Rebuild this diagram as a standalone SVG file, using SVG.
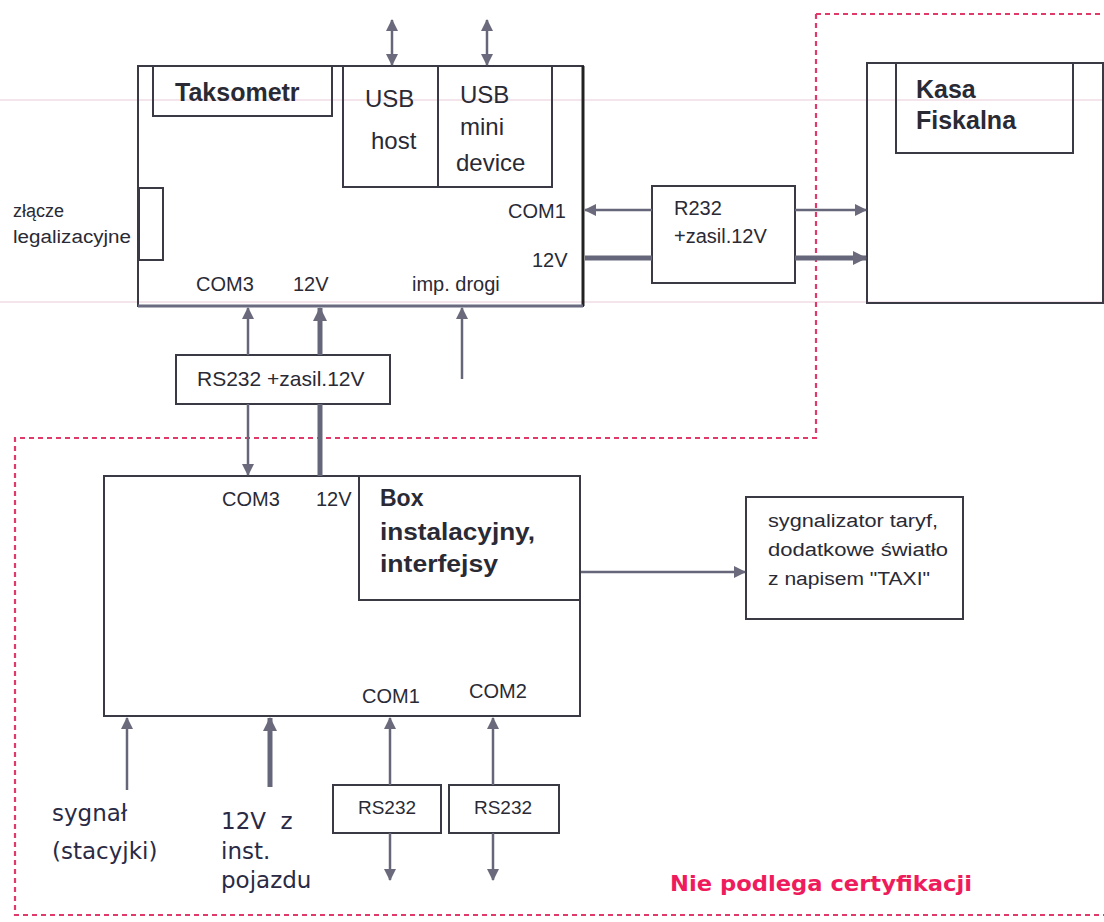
<svg xmlns="http://www.w3.org/2000/svg" width="1104" height="922" viewBox="0 0 1104 922">
<style>
.box{fill:none;stroke:#3a3a44;stroke-width:2}
.ln{fill:none;stroke:#66667a;stroke-width:2.5}
.thk{fill:none;stroke:#66667a;stroke-width:5}
.t{font-family:"Liberation Sans",Arial,sans-serif;fill:#2a2a35}
.b{font-family:"Liberation Sans",Arial,sans-serif;font-weight:bold;fill:#2a2a35}
.v{font-family:"DejaVu Sans",Verdana,sans-serif;fill:#2a2a45}
.dash{fill:none;stroke:#e03a6a;stroke-width:2.2;stroke-dasharray:5 4}
.faint{stroke:#f1dbe6;stroke-width:1.5}
</style>
<defs>
<marker id="ah" markerWidth="14" markerHeight="14" refX="11" refY="6" orient="auto-start-reverse" markerUnits="userSpaceOnUse"><path d="M0,0 L12,6 L0,12 Z" fill="#6a6a7c"/></marker>
<marker id="ahb" markerWidth="16" markerHeight="16" refX="13" refY="7" orient="auto-start-reverse" markerUnits="userSpaceOnUse"><path d="M0,0 L14,7 L0,14 Z" fill="#6a6a7c"/></marker>
</defs>
<rect width="1104" height="922" fill="#ffffff"/>
<line class="faint" x1="0" y1="100" x2="1104" y2="100"/>
<line class="faint" x1="0" y1="302" x2="1104" y2="302"/>

<g id="boundary">
<path class="dash" d="M816,14 H1104 M816,14 V438 H15 V915 H1104"/>
</g>

<g id="taksometr">
<rect class="box" x="138" y="66" width="445" height="240"/>
<line x1="583" y1="66" x2="583" y2="306" stroke="#222" stroke-width="3"/>
<line x1="138" y1="306" x2="583" y2="306" stroke="#6a6a80" stroke-width="3"/>
<rect class="box" x="153" y="66" width="179" height="50"/>
<text class="b" x="175" y="101" font-size="25">Taksometr</text>
<text class="t" x="508" y="218" font-size="20">COM1</text>
<text class="t" x="532" y="267" font-size="20">12V</text>
<text class="t" x="196" y="291" font-size="20">COM3</text>
<text class="t" x="293" y="291" font-size="20">12V</text>
<text class="t" x="412" y="291" font-size="20">imp. drogi</text>
</g>

<g id="usb-host">
<rect class="box" x="343" y="66" width="95" height="121"/>
<text class="t" x="365" y="107" font-size="24">USB</text>
<text class="t" x="371" y="149" font-size="24">host</text>
</g>

<g id="usb-mini">
<rect class="box" x="438" y="66" width="114" height="121"/>
<text class="t" x="460" y="103" font-size="24">USB</text>
<text class="t" x="460" y="135" font-size="24">mini</text>
<text class="t" x="456" y="171" font-size="24">device</text>
</g>

<g id="zlacze">
<rect class="box" x="139" y="188" width="24" height="72"/>
<text class="t" x="13" y="217" font-size="18">złącze</text>
<text class="t" x="13" y="243" font-size="18" textLength="118" lengthAdjust="spacingAndGlyphs">legalizacyjne</text>
</g>

<g id="r232">
<rect class="box" x="652" y="186" width="143" height="97"/>
<text class="t" x="674" y="215" font-size="20">R232</text>
<text class="t" x="674" y="243" font-size="20">+zasil.12V</text>
</g>

<g id="kasa">
<rect class="box" x="867" y="63" width="236" height="240"/>
<rect class="box" x="896" y="63" width="177" height="90"/>
<text class="b" x="916" y="98" font-size="25">Kasa</text>
<text class="b" x="916" y="129" font-size="25">Fiskalna</text>
</g>

<g id="rs232-zasil">
<rect class="box" x="176" y="355" width="214" height="49"/>
<text class="t" x="197" y="386" font-size="21">RS232 +zasil.12V</text>
</g>

<g id="box-instalacyjny">
<rect class="box" x="104" y="476" width="476" height="240"/>
<path class="box" d="M359,476 V600 H580"/>
<text class="b" x="380" y="506" font-size="23">Box</text>
<text class="b" x="380" y="540" font-size="23" textLength="155" lengthAdjust="spacingAndGlyphs">instalacyjny,</text>
<text class="b" x="380" y="572" font-size="23" textLength="118" lengthAdjust="spacingAndGlyphs">interfejsy</text>
<text class="t" x="222" y="506" font-size="20">COM3</text>
<text class="t" x="316" y="506" font-size="20">12V</text>
<text class="t" x="362" y="703" font-size="20">COM1</text>
<text class="t" x="469" y="698" font-size="20">COM2</text>
</g>

<g id="sygnalizator">
<rect class="box" x="746" y="497" width="217" height="122"/>
<text class="t" x="768" y="527" font-size="18" textLength="170" lengthAdjust="spacingAndGlyphs">sygnalizator taryf,</text>
<text class="t" x="768" y="556" font-size="18" textLength="180" lengthAdjust="spacingAndGlyphs">dodatkowe światło</text>
<text class="t" x="768" y="585" font-size="18" textLength="162" lengthAdjust="spacingAndGlyphs">z napisem "TAXI"</text>
</g>

<g id="rs232-1">
<rect class="box" x="333" y="785" width="108" height="48"/>
<text class="t" x="387" y="814" font-size="19" text-anchor="middle">RS232</text>
</g>
<g id="rs232-2">
<rect class="box" x="449" y="785" width="110" height="48"/>
<text class="t" x="503" y="814" font-size="19" text-anchor="middle">RS232</text>
</g>

<g id="inputs">
<text class="v" x="52" y="821" font-size="23">sygnał</text>
<text class="v" x="52" y="859" font-size="23">(stacyjki)</text>
<text class="v" x="221" y="829" font-size="23" xml:space="preserve">12V  z</text>
<text class="v" x="221" y="859" font-size="23">inst.</text>
<text class="v" x="221" y="888" font-size="23">pojazdu</text>
<text x="670" y="891" font-size="21" font-weight="bold" font-family="'DejaVu Sans',Verdana,sans-serif" fill="#ee1c5c" textLength="302" lengthAdjust="spacingAndGlyphs">Nie podlega certyfikacji</text>
</g>

<g id="connectors">
<line class="ln" x1="392" y1="20" x2="392" y2="65" marker-start="url(#ah)" marker-end="url(#ah)"/>
<line class="ln" x1="487" y1="20" x2="487" y2="65" marker-start="url(#ah)" marker-end="url(#ah)"/>
<line class="ln" x1="652" y1="210" x2="585" y2="210" marker-end="url(#ah)"/>
<line class="thk" x1="585" y1="258" x2="652" y2="258"/>
<line class="ln" x1="795" y1="210" x2="866" y2="210" marker-end="url(#ah)"/>
<line class="thk" x1="795" y1="258" x2="866" y2="258" marker-end="url(#ahb)"/>
<line class="ln" x1="248" y1="355" x2="248" y2="308" marker-end="url(#ah)"/>
<line class="thk" x1="320" y1="355" x2="320" y2="308" marker-end="url(#ahb)"/>
<line class="ln" x1="462" y1="379" x2="462" y2="308" marker-end="url(#ah)"/>
<line class="ln" x1="248" y1="404" x2="248" y2="475" marker-end="url(#ah)"/>
<line class="thk" x1="320" y1="404" x2="320" y2="476"/>
<line class="ln" x1="581" y1="572" x2="745" y2="572" marker-end="url(#ah)"/>
<line class="ln" x1="127" y1="790" x2="127" y2="718" marker-end="url(#ah)"/>
<line class="thk" x1="270" y1="787" x2="270" y2="718" marker-end="url(#ahb)"/>
<line class="ln" x1="390" y1="785" x2="390" y2="718" marker-end="url(#ah)"/>
<line class="ln" x1="390" y1="833" x2="390" y2="880" marker-end="url(#ah)"/>
<line class="ln" x1="493" y1="785" x2="493" y2="718" marker-end="url(#ah)"/>
<line class="ln" x1="493" y1="833" x2="493" y2="880" marker-end="url(#ah)"/>
</g>
</svg>
